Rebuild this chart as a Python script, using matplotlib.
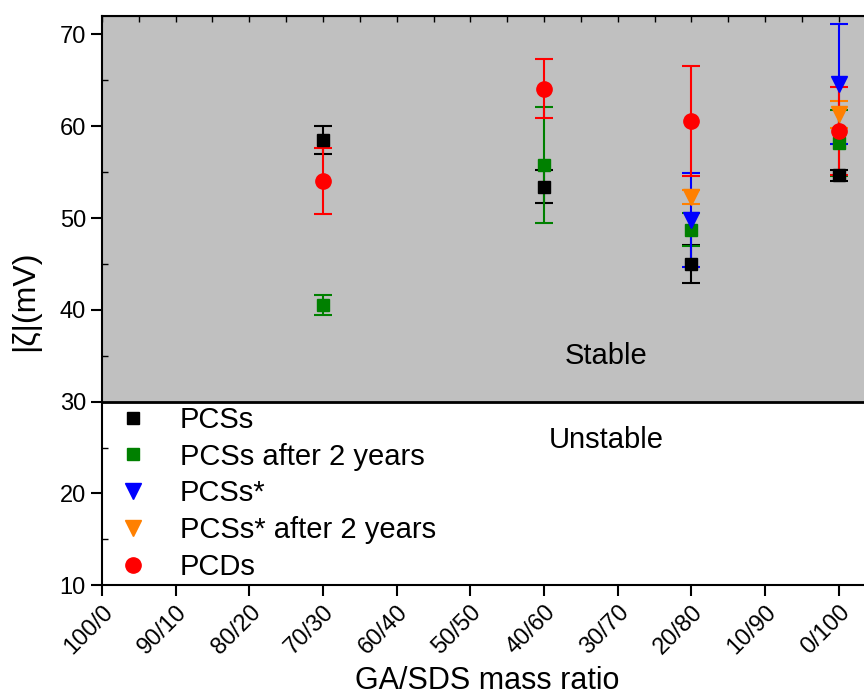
import matplotlib
matplotlib.use('Agg')
import matplotlib.pyplot as plt
from matplotlib.ticker import MultipleLocator

plt.rcParams['font.family'] = ['Liberation Sans', 'DejaVu Sans']

ratios = ['100/0', '90/10', '80/20', '70/30', '60/40', '50/50',
          '40/60', '30/70', '20/80', '10/90', '0/100']

# zeta potential magnitudes (mV) with standard deviations
pcs_ratios = ['70/30', '40/60', '20/80', '0/100']
pcs = [58.5, 53.4, 45.0, 54.65]
pcs_err = [1.5, 1.8, 2.1, 0.6]

pcs_2y = [40.5, 55.8, 48.7, 58.2]
pcs_2y_err = [1.1, 6.3, 1.8, 3.6]

star_ratios = ['20/80', '0/100']
pcs_star = [49.8, 64.6]
pcs_star_err = [5.1, 6.5]

pcs_star_2y = [52.3, 61.3]
pcs_star_2y_err = [0.8, 1.5]

pcd_ratios = ['70/30', '40/60', '20/80', '0/100']
pcd = [54.0, 64.1, 60.6, 59.5]
pcd_err = [3.6, 3.2, 6.0, 4.8]


def pos(labels):
    return [ratios.index(r) for r in labels]


fig = plt.figure(figsize=(8.64, 7), dpi=100)
ax = fig.add_axes([0.118, 0.164, 0.921, 0.813])

ax.axhspan(30, 72, color='#c0c0c0', zorder=0)
ax.axhline(30, color='black', lw=2, zorder=1)

eb = dict(capsize=6.5, elinewidth=1.5, capthick=1.5, linestyle='none')
ax.errorbar(pos(pcs_ratios), pcs, yerr=pcs_err, fmt='s', color='black',
            ms=8.5, label='PCSs', **eb)
ax.errorbar(pos(pcs_ratios), pcs_2y, yerr=pcs_2y_err, fmt='s', color='#008000',
            ms=8.5, label='PCSs after 2 years', **eb)
ax.errorbar(pos(star_ratios), pcs_star, yerr=pcs_star_err, fmt='v', color='#0000ff',
            ms=11, label='PCSs*', **eb)
ax.errorbar(pos(star_ratios), pcs_star_2y, yerr=pcs_star_2y_err, fmt='v', color='#ff8000',
            ms=11, label='PCSs* after 2 years', **eb)
ax.errorbar(pos(pcd_ratios), pcd, yerr=pcd_err, fmt='o', color='#ff0000',
            ms=11, label='PCDs', **eb)

ax.text(6.84, 35.0, 'Stable', fontsize=21, ha='center', va='center')
ax.text(6.84, 25.8, 'Unstable', fontsize=21, ha='center', va='center')

ax.set_xlim(0, 10.8)
ax.set_ylim(10, 72)
ax.set_xticks(range(len(ratios)))
ax.set_xticklabels(ratios, rotation=45, ha='right', rotation_mode='anchor')
ax.yaxis.set_major_locator(MultipleLocator(10))
ax.yaxis.set_minor_locator(MultipleLocator(5))
ax.tick_params(axis='both', which='major', labelsize=17, direction='out',
               length=8, width=1.5)
ax.tick_params(axis='y', which='minor', direction='in', length=4, width=1)
ax.tick_params(axis='x', which='minor', bottom=False)
for s in ax.spines.values():
    s.set_linewidth(1.5)

# short inward ticks along the top edge
top = ax.secondary_xaxis('top')
top.set_xticks([i * 0.5 for i in range(22)])
top.tick_params(direction='in', length=4, width=1, labeltop=False)

ax.set_xlabel('GA/SDS mass ratio', fontsize=22)
ax.xaxis.set_label_coords(0.484, -0.142)
ax.set_ylabel('|ζ|(mV)', fontsize=23, labelpad=14)

handles, labels = ax.get_legend_handles_labels()
handles = [h[0] for h in handles]
ax.legend(handles, labels, loc='lower left', bbox_to_anchor=(0.015, 0.0),
          frameon=False, fontsize=21, handlelength=1.0, handletextpad=1.1,
          labelspacing=0.3, borderaxespad=0.05, borderpad=0.1)

fig.savefig('out.png', dpi=100)
